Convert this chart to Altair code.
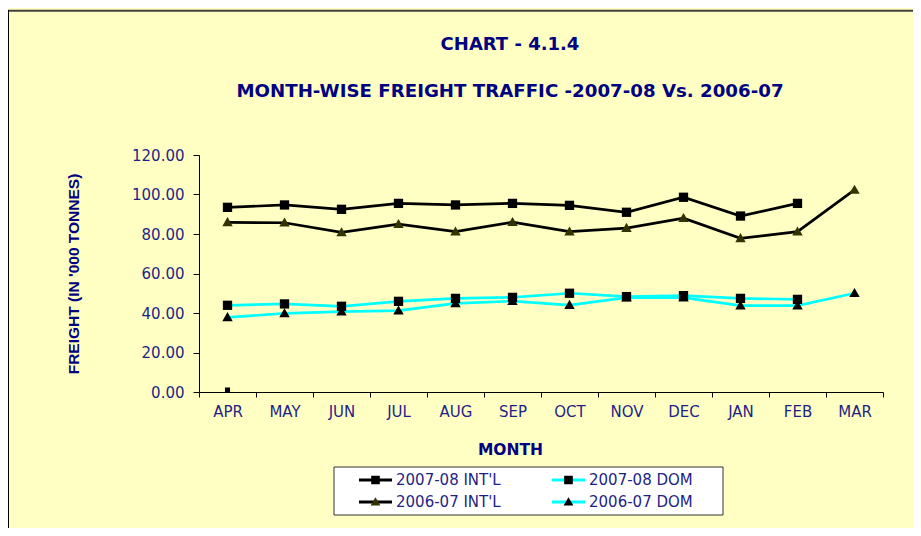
import altair as alt
import pandas as pd

months = ["APR", "MAY", "JUN", "JUL", "AUG", "SEP", "OCT", "NOV", "DEC", "JAN", "FEB", "MAR"]
series_names = ["2007-08 INT'L", "2007-08 DOM", "2006-07 INT'L", "2006-07 DOM"]
int_0708 = [93.5, 94.7, 92.5, 95.5, 94.7, 95.5, 94.5, 91.0, 98.6, 89.1, 95.5, None]
dom_0708 = [43.9, 44.6, 43.4, 45.9, 47.4, 47.9, 50.0, 48.3, 48.8, 47.4, 46.9, None]
int_0607 = [85.9, 85.7, 80.8, 85.0, 81.2, 86.0, 81.2, 83.0, 88.0, 77.8, 81.2, 102.3]
dom_0607 = [37.8, 39.8, 40.7, 41.2, 44.9, 46.0, 44.0, 47.8, 47.8, 43.7, 43.7, 50.0]
stray_month = ["APR"]
stray_value = [1.0]
y_ticks = [0, 20, 40, 60, 80, 100, 120]
chart_title = "CHART - 4.1.4"
chart_subtitle = "MONTH-WISE FREIGHT TRAFFIC -2007-08 Vs. 2006-07"

line_colors = ["#000000", "#00FFFF", "#000000", "#00FFFF"]
marker_fills = ["#000000", "#000000", "#333300", "#000000"]
SQ = "M-0.24,-0.24L0.24,-0.24L0.24,0.24L-0.24,0.24Z"
TRI = "M0,-0.27L0.27,0.2L-0.27,0.2Z"
marker_shapes = [SQ, SQ, TRI, TRI]

NAVY = "#000080"
LABEL = "#1f1f86"
BG = "#FFFFC4"

# marker-legend keys carry an invisible zero-width space so the two legends stay separate
ZW = "\u200b"
marker_names = [n + ZW for n in series_names]

rows = []
for name, mname, vals in zip(series_names, marker_names, [int_0708, dom_0708, int_0607, dom_0607]):
    for m, v in zip(months, vals):
        if v is not None:
            rows.append({"month": m, "value": v, "series": name, "series_m": mname})
df = pd.DataFrame(rows)
stray_df = pd.DataFrame({"month": stray_month, "value": stray_value})
one = pd.DataFrame({"a": [0]})

xscale = alt.Scale(type="band", domain=months, paddingInner=0, paddingOuter=0)
yscale = alt.Scale(domain=[0, 120], nice=False)
xaxis = alt.Axis(title="MONTH", labelAngle=0, tickBand="extent", tickSize=5,
                 tickColor="black", domainColor="black", labelFont="DejaVu Sans",
                 labelFontSize=15, labelColor=LABEL, labelPadding=7, grid=False,
                 titleFont="DejaVu Sans", titleFontSize=15.5, titleFontWeight="bold",
                 titleColor=NAVY, titleX=311, titleY=57, titleAlign="center",
                 titleBaseline="middle")
yaxis = alt.Axis(title="FREIGHT (IN '000 TONNES)", values=y_ticks, format=".2f",
                 tickSize=6, tickColor="black", domainColor="black", grid=False,
                 labelFont="DejaVu Sans", labelFontSize=15, labelColor=LABEL,
                 labelPadding=9, titleFont="Liberation Sans", titleFontSize=15.5,
                 titleFontWeight="bold", titleColor=NAVY, titleX=-126, titleY=118.5,
                 titleAngle=270, titleAlign="center", titleBaseline="middle")

X = alt.X("month:N", sort=months, scale=xscale, bandPosition=0.5, axis=xaxis)
Y = alt.Y("value:Q", scale=yscale, axis=yaxis)

common_leg = dict(orient="none", legendX=158.5, legendY=317, columns=2,
                  direction="horizontal",
                  clipHeight=16, rowPadding=6, columnPadding=49, labelOffset=2.5,
                  labelFont="DejaVu Sans", labelFontSize=15, labelLimit=400,
                  title=None, padding=0)
legA = alt.Legend(symbolType="stroke", symbolSize=1089, symbolStrokeWidth=3,
                  labelColor=LABEL, **common_leg)
legB = alt.Legend(symbolSize=1296, symbolStrokeWidth=0, labelOpacity=0, **common_leg)

border_top = alt.Chart(one).mark_rule(color="#404040", strokeWidth=2).encode(
    x=alt.value(-191), x2=alt.value(714), y=alt.value(-144.2))
border_left = alt.Chart(one).mark_rule(color="#000000", strokeWidth=1).encode(
    x=alt.value(-190.5), y=alt.value(-145), y2=alt.value(373))
legend_box = alt.Chart(one).mark_rect(fill="white", stroke="#333333", strokeWidth=1).encode(
    x=alt.value(135), x2=alt.value(524), y=alt.value(312), y2=alt.value(360))
title1 = alt.Chart(one).mark_text(text=chart_title, font="DejaVu Sans", fontSize=18,
                                  fontWeight="bold", color=NAVY, align="center",
                                  baseline="middle").encode(
    x=alt.value(311), y=alt.value(-110))
title2 = alt.Chart(one).mark_text(text=chart_subtitle, font="DejaVu Sans", fontSize=18.2,
                                  fontWeight="bold", color=NAVY, align="center",
                                  baseline="middle").encode(
    x=alt.value(311), y=alt.value(-63))

lines = alt.Chart(df).mark_line(strokeWidth=2.7).encode(
    x=X, y=Y,
    color=alt.Color("series:N", scale=alt.Scale(domain=series_names, range=line_colors), legend=legA),
)
points = alt.Chart(df).mark_point(filled=True, opacity=1, size=1500).encode(
    x=X, y=Y,
    fill=alt.Fill("series_m:N", scale=alt.Scale(domain=marker_names, range=marker_fills), legend=legB),
    shape=alt.Shape("series_m:N", scale=alt.Scale(domain=marker_names, range=marker_shapes), legend=legB),
)
stray = alt.Chart(stray_df).mark_point(filled=True, opacity=1, size=450, shape=SQ, color="black").encode(
    x=X, y=Y)

chart = alt.layer(border_top, border_left, legend_box, title1, title2, lines, points, stray).properties(
    width=684, height=237,
    padding={"left": 191, "top": 147, "right": 30, "bottom": 136},
    autosize=alt.AutoSizeParams(type="none"),
    background=BG,
).configure_view(stroke=None)

chart.save("out.html", embed_options={"renderer": "svg", "actions": False})
